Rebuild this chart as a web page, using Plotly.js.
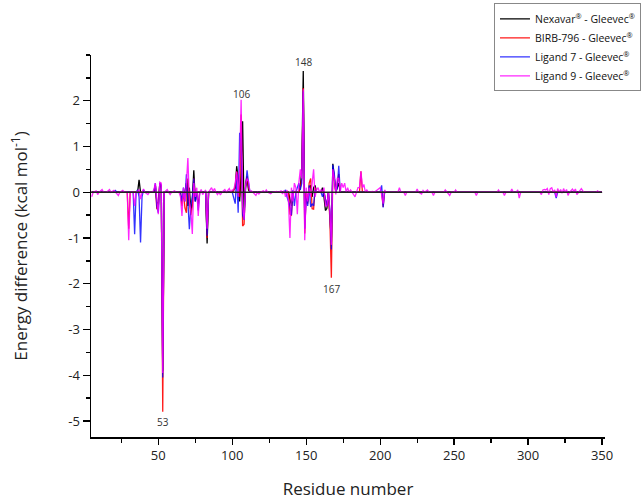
<!DOCTYPE html>
<html>
<head>
<meta charset="utf-8">
<script src="https://cdn.plot.ly/plotly-3.0.1.min.js"></script>
<style>html,body{margin:0;padding:0;background:#fff;}#chart{width:643px;height:500px;}</style>
</head>
<body>
<div id="chart"></div>
<script>
// Nexavar - Gleevec
const nexRes = [5, 36, 37, 38, 47, 48, 49, 50, 51, 52, 53, 54, 68, 69, 70, 71, 72, 73, 74, 75, 76, 82, 83, 84,
  100, 101, 102, 103, 104, 105, 106, 107, 108, 109, 110, 111, 112,
  138, 139, 140, 141, 145, 146, 147, 148, 149, 150, 151, 152, 153, 154, 155, 156, 157,
  160, 161, 162, 163, 164, 165, 166, 167, 168, 169, 170, 171, 172, 173, 350];
const nexVal = [0, 0, 0.27, 0, 0, 0.15, -0.2, -0.3, 0.18, 0.1, -3.9, 0, 0, 0.2, -0.3, 0.1, -0.4, -0.2, 0.48, -0.2, 0, 0, -1.12, 0,
  0, 0.05, 0.1, 0.57, 0.3, -0.2, 0.4, 1.55, -0.45, 0.1, 0.3, 0.05, 0,
  0, -0.2, -0.3, 0, 0, 0.1, 0.5, 2.65, -0.6, 0, -0.2, 0.1, 0.15, -0.1, 0.1, 0.15, 0,
  0, 0.1, -0.1, -0.4, -0.35, 0, -0.5, -1.1, 0.62, 0.3, 0, 0.1, 0.2, 0, 0];

// BIRB-796 - Gleevec
const birbRes = [5, 29, 30, 31, 47, 48, 49, 50, 51, 52, 53, 54, 65, 66, 67, 68, 69, 70, 71, 72, 73, 74, 75, 76, 77, 78, 82, 83, 84,
  100, 102, 103, 104, 105, 106, 107, 108, 109, 110, 111, 112,
  138, 139, 140, 141, 145, 146, 147, 148, 149, 150, 151, 152, 153, 154, 155, 156, 157,
  162, 163, 164, 165, 166, 167, 168, 169, 170, 171, 172, 173, 186, 187, 188, 201, 202, 203, 350];
const birbVal = [0, 0, -0.8, 0, 0, 0.15, -0.37, -0.3, 0.2, 0.15, -4.8, 0, 0, -0.3, 0, -0.34, -0.45, 0.3, -0.2, -0.5, -0.3, 0.3, -0.1, 0, -0.3, 0, 0, -1.0, 0,
  0, 0.1, 0.45, 0.2, -0.1, 1.7, -0.74, -0.7, 0.2, 0.35, 0.1, 0,
  0, -0.48, -0.5, 0, 0, 0.1, 0.3, 2.28, -0.9, 0, -0.25, 0.2, 0.3, -0.36, -0.37, 0.1, 0,
  0, -0.2, -0.3, 0, -0.6, -1.87, 0.5, 0.3, 0, 0.2, 0.4, 0, 0, 0.46, 0, 0, -0.32, 0, 0];

// Ligand 7 - Gleevec
const lig7Res = [5, 20, 21, 22, 33, 34, 35, 36, 37, 38, 39, 40, 41, 47, 48, 49, 50, 51, 52, 53, 54,
  65, 66, 67, 68, 69, 70, 71, 72, 73, 74, 75, 76, 77, 78, 82, 83, 84,
  100, 101, 102, 103, 104, 105, 106, 107, 108, 109, 110, 111, 112,
  135, 136, 137, 138, 139, 140, 141, 142, 143, 144, 145, 146, 147, 148, 149, 150, 151, 152, 153, 154, 155, 156, 157,
  160, 161, 162, 163, 164, 165, 166, 167, 168, 169, 170, 171, 172, 173, 200, 201, 202, 203, 318, 319, 320, 350];
const lig7Val = [0, 0, 0.04, 0, 0, -0.92, 0, 0.05, -0.1, -1.1, -0.1, 0.05, 0, 0, 0.2, -0.3, -0.45, 0.2, 0.15, -4.05, 0,
  0, -0.2, 0.1, -0.2, 0.39, -0.2, -0.81, -0.3, -0.1, 0.3, -0.2, 0, -0.4, 0, 0, -0.95, 0,
  0, -0.1, -0.25, 0.4, -0.45, 1.3, 1.1, -0.5, -0.6, 0.1, 0.48, 0.2, 0,
  0, 0.05, -0.1, -0.23, -0.3, -0.5, 0.05, -0.3, 0, 0.1, 0.2, 0.05, 0.2, 2.2, -0.8, -0.1, -0.3, 0.15, -0.32, -0.25, -0.3, 0.05, 0,
  0, -0.1, 0, -0.2, -0.3, 0, -0.4, -1.25, 0.6, 0.4, 0, 0.1, 0.58, 0, 0, 0.15, -0.33, 0, 0, -0.13, 0, 0];

// Ligand 9 - Gleevec
const lig9Res = [5, 6, 8, 9, 10, 12, 13, 15, 17, 18, 20, 21, 23, 24, 26, 27, 29, 30, 31, 33, 34, 35, 37, 38, 39, 40, 41, 43, 44,
  46, 47, 48, 49, 50, 51, 52, 53, 54, 55, 56, 57, 58, 59, 61, 62, 64, 65, 66, 67, 68, 69, 70, 71, 72, 73, 74, 75, 76, 77, 78,
  79, 80, 81, 82, 83, 84, 85, 86, 87, 88, 89, 90, 91, 92, 93, 95, 96, 98, 99,
  100, 101, 102, 103, 104, 105, 106, 107, 108, 109, 110, 111, 112,
  113, 114, 116, 117, 118, 119, 121, 122, 123, 124, 126, 127, 130, 131, 133, 134, 135, 136, 137, 138, 139, 140, 141, 142, 143,
  144, 145, 146, 147, 148, 149, 150, 151, 152, 153, 154, 155, 156, 157, 158, 159, 160, 161, 162, 163, 164, 165, 166, 167, 168,
  169, 170, 171, 172, 173, 174, 175, 176, 177, 178, 179, 180, 181, 183, 184, 185, 186, 187, 188, 189, 190, 191, 192,
  195, 196, 200, 201, 202, 203, 204, 212, 213, 214, 216, 217, 218, 224, 225, 226, 228, 229, 230, 232, 233, 235, 236, 237,
  243, 244, 245, 247, 248, 250, 251, 252, 264, 265, 266, 279, 280, 281, 283, 284, 285, 288, 289, 290, 292, 293, 294, 295,
  308, 309, 310, 311, 312, 313, 314, 315, 316, 317, 318, 319, 320, 321, 322, 323, 324, 325, 326, 327, 328, 329, 330, 331,
  332, 333, 334, 335, 336, 337, 338, 346, 347, 348, 350];
const lig9Val = [-0.1, 0, 0.03, -0.05, 0, 0.06, 0, 0, 0.06, 0, 0.04, 0, -0.07, 0, 0.04, 0, 0, -1.05, 0, 0, -0.3, 0, 0.05, -0.15, 0, 0.07, 0, -0.05, 0,
  0, 0.05, 0.2, -0.25, -0.48, 0.22, 0.2, -3.95, 0, 0.03, 0.06, 0, -0.05, 0, 0.03, 0, 0, -0.1, -0.52, 0.1, -0.2, 0.2, 0.75, -0.2, -0.4, -0.91, 0.2, -0.1, 0.1, -0.52, 0,
  0.06, -0.05, 0, 0.05, -0.8, 0, 0.05, 0.1, 0.02, 0.08, 0, -0.05, 0, -0.06, 0, 0.06, 0, 0.08, 0,
  0.05, 0.05, 0.2, 0.45, -0.1, 0.5, 2.02, -0.3, -0.6, 0.15, 0.3, 0.24, 0,
  0.03, 0, -0.07, 0, -0.04, 0, 0.03, 0, 0.05, 0, -0.03, 0, 0.02, 0, 0.03, -0.04, 0.04, -0.1, 0.05, -0.2, -1.0, 0.1, -0.2, 0.2, 0.1,
  -0.48, 0.2, 0.5, 0.3, 2.25, -1.05, 0.1, -0.2, 0.1, -0.1, 0.2, 0.5, -0.1, 0.05, 0.1, 0, 0.05, 0, 0.1, -0.3, -0.3, 0, -0.4, -1.15, 0.5,
  0.3, -0.05, 0.3, 0.3, 0, 0.2, 0.1, 0.2, 0, 0.1, 0, 0.05, 0, -0.1, 0, 0.1, 0.1, 0.46, 0.1, 0.17, 0, 0.05, 0,
  0.02, 0, 0.1, -0.05, -0.25, 0.05, 0, 0, 0.1, 0, 0, -0.07, 0, 0, 0.07, 0, -0.04, 0.04, 0, 0.05, 0, 0, -0.07, 0,
  0, 0.05, 0, -0.07, 0, 0, 0.05, 0, 0, -0.07, 0, 0, 0.05, 0, 0, -0.07, 0, 0, 0.07, 0, 0, 0.05, -0.13, 0,
  0, -0.05, 0.05, 0.06, 0.05, 0.08, -0.05, 0.08, 0.1, 0, 0.05, -0.1, 0.08, 0, 0.06, -0.02, 0.08, 0, 0.06, -0.07, 0, 0.04, 0.07, 0.02,
  0.07, -0.05, 0, 0.03, 0.08, 0.03, 0, 0, 0.03, 0, 0];

const seriesNames = ['Nexavar<sup>®</sup> - Gleevec<sup>®</sup>', 'BIRB-796 - Gleevec<sup>®</sup>',
  'Ligand 7 - Gleevec<sup>®</sup>', 'Ligand 9 - Gleevec<sup>®</sup>'];
const seriesColors = ['#000000', '#ff0000', '#0000ff', '#ff00ff'];

const yTickVals = [-5, -4, -3, -2, -1, 0, 1, 2];
const yTickText = ['-5', '-4', '-3', '-2', '-1', '0', '1', '2'];
const xTickVals = [50, 100, 150, 200, 250, 300, 350];

const peakLabels = ['53', '106', '148', '167'];
const peakX = [53, 106, 148, 167];
const peakY = [-5.02, 2.14, 2.84, -2.12];

const resArrays = [nexRes, birbRes, lig7Res, lig9Res];
const valArrays = [nexVal, birbVal, lig7Val, lig9Val];
const opac = [1, 0.9, 0.8, 0.85];

const traces = resArrays.map((r, i) => ({
  x: r, y: valArrays[i], type: 'scatter', mode: 'lines', name: seriesNames[i],
  line: {color: seriesColors[i], width: 1.3}, opacity: opac[i]
}));

const font = 'Open Sans, Arial, sans-serif';
const layout = {
  width: 643, height: 500,
  margin: {l: 91, r: 38, t: 55, b: 63, autoexpand: false},
  paper_bgcolor: '#fff', plot_bgcolor: '#fff',
  font: {family: font, color: '#222', size: 13},
  showlegend: true,
  legend: {x: 1.070, y: 1.135, xanchor: 'right', yanchor: 'top', bordercolor: '#888', borderwidth: 1,
    font: {family: font, size: 10.5, color: '#111'}, tracegroupgap: 0, itemwidth: 30, bgcolor: '#fff'},
  xaxis: {
    range: [4.5, 352], showgrid: false, zeroline: false, showline: true, linecolor: '#000', linewidth: 1.5,
    ticks: 'outside', ticklen: 6, tickwidth: 1.3, tickcolor: '#000', tickmode: 'array', tickvals: xTickVals,
    minor: {dtick: 25, tick0: 0, ticks: 'outside', ticklen: 4, tickwidth: 1.3, tickcolor: '#000'},
    tickfont: {family: font, size: 13, color: '#222'}, ticklabelstandoff: 0,
    title: {text: 'Residue number', font: {family: font, size: 17, color: '#222'}, standoff: 20}
  },
  yaxis: {
    range: [-5.35, 3.0], showgrid: false, zeroline: false, showline: true, linecolor: '#000', linewidth: 1.5,
    ticks: 'outside', ticklen: 7, tickwidth: 1.3, tickcolor: '#000', tickmode: 'array',
    tickvals: yTickVals, ticktext: yTickText,
    minor: {dtick: 0.5, tick0: 0, ticks: 'outside', ticklen: 4, tickwidth: 1.3, tickcolor: '#000'},
    tickfont: {family: font, size: 13, color: '#222'},
    title: {text: 'Energy difference (kcal mol<sup>-1</sup>)', font: {family: font, size: 17, color: '#222'}, standoff: 36}
  },
  shapes: [{type: 'line', xref: 'x', yref: 'y', x0: 4.5, x1: 350, y0: 0, y1: 0,
    line: {color: '#222', width: 1.6}, layer: 'above'}],
  annotations: peakLabels.map((t, i) => ({x: peakX[i], y: peakY[i], text: t, showarrow: false,
    font: {family: font, size: 10, color: '#333'}, xref: 'x', yref: 'y'}))
};

Plotly.newPlot('chart', traces, layout, {displayModeBar: false, staticPlot: true});
</script>
</body>
</html>
